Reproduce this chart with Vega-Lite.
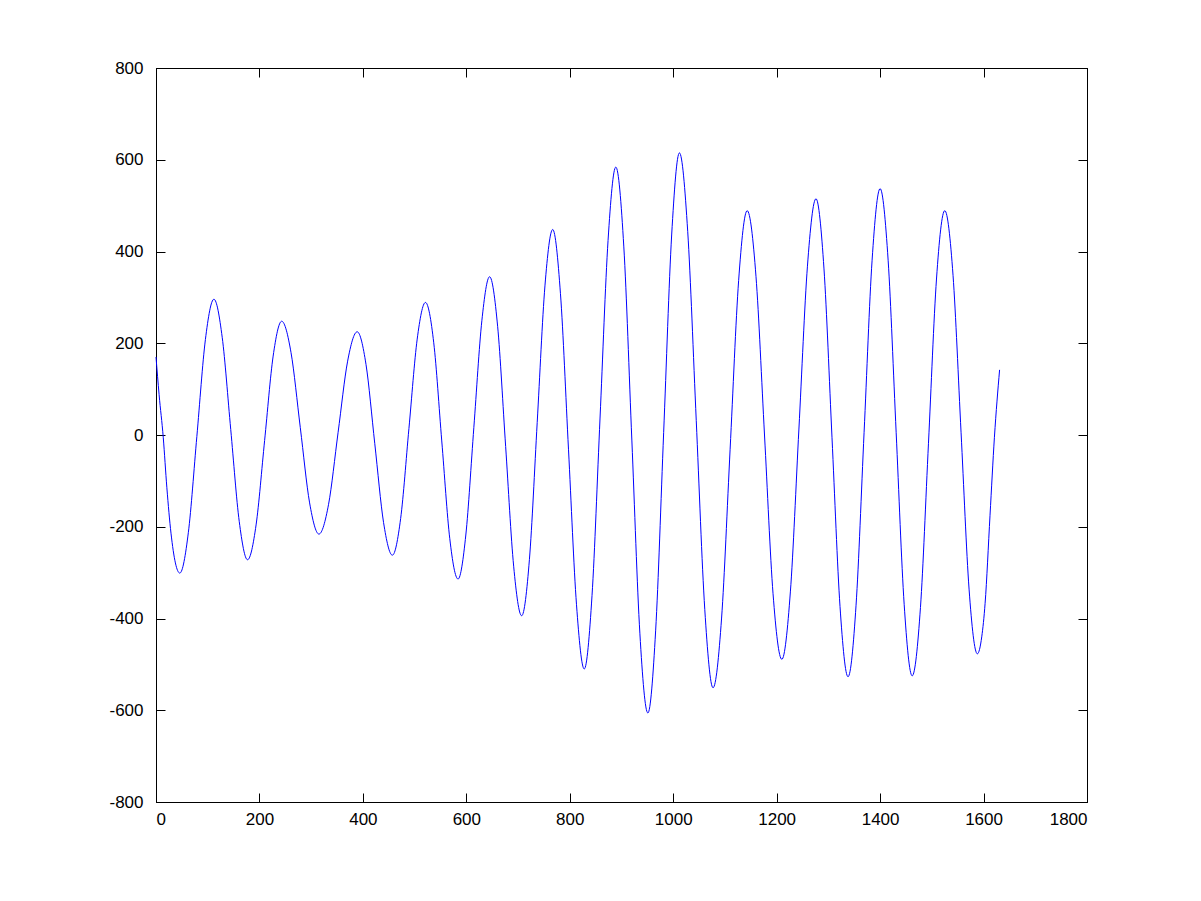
{
  "$schema": "https://vega.github.io/schema/vega-lite/v6.json",
  "autosize": "none",
  "width": 931,
  "height": 734,
  "padding": {"left": 156, "top": 68, "right": 114, "bottom": 99},
  "background": "white",
  "config": {
    "view": {"stroke": "black", "strokeWidth": 1},
    "axis": {
      "grid": false,
      "domainColor": "black",
      "tickColor": "black",
      "labelColor": "black",
      "labelFont": "Liberation Sans",
      "labelFontSize": 17,
      "tickSize": -9,
      "title": null,
      "labelExpr": "'' + datum.value"
    }
  },
  "data": {"values": [
    {"x": 0, "y": 170}, {"x": 6, "y": 88}, {"x": 14, "y": -5}, {"x": 21, "y": -115}, {"x": 29, "y": -214}, {"x": 46, "y": -301},
    {"x": 62.5, "y": -213}, {"x": 79, "y": -3}, {"x": 95.5, "y": 208}, {"x": 112, "y": 296},
    {"x": 128, "y": 213}, {"x": 144.5, "y": 12}, {"x": 161, "y": -189}, {"x": 177, "y": -272},
    {"x": 193.5, "y": -196}, {"x": 210, "y": -12}, {"x": 226.5, "y": 172}, {"x": 243, "y": 248},
    {"x": 261, "y": 180}, {"x": 279, "y": 16}, {"x": 297, "y": -148}, {"x": 315, "y": -216},
    {"x": 333.5, "y": -152}, {"x": 352, "y": 5}, {"x": 370.5, "y": 161}, {"x": 389, "y": 225},
    {"x": 406, "y": 154}, {"x": 423, "y": -19}, {"x": 440, "y": -191}, {"x": 457, "y": -262},
    {"x": 473, "y": -182}, {"x": 489, "y": 14}, {"x": 505, "y": 209}, {"x": 521, "y": 289},
    {"x": 537, "y": 201}, {"x": 552.5, "y": -13}, {"x": 568, "y": -226}, {"x": 584, "y": -314},
    {"x": 599, "y": -218}, {"x": 614.5, "y": 16}, {"x": 630, "y": 249}, {"x": 645, "y": 345},
    {"x": 660.5, "y": 237}, {"x": 676, "y": -25}, {"x": 691.5, "y": -286}, {"x": 707, "y": -394},
    {"x": 722, "y": -271}, {"x": 737, "y": 27}, {"x": 752, "y": 325}, {"x": 767, "y": 448},
    {"x": 782, "y": 308}, {"x": 797.5, "y": -31}, {"x": 813, "y": -370}, {"x": 828, "y": -510},
    {"x": 843, "y": -350}, {"x": 858.5, "y": 37}, {"x": 874, "y": 424}, {"x": 889, "y": 584},
    {"x": 904.5, "y": 410}, {"x": 920, "y": -11}, {"x": 935.5, "y": -432}, {"x": 951, "y": -606},
    {"x": 966, "y": -427}, {"x": 981.5, "y": 5}, {"x": 997, "y": 436}, {"x": 1012, "y": 615},
    {"x": 1028, "y": 444}, {"x": 1044.5, "y": 32}, {"x": 1061, "y": -380}, {"x": 1077, "y": -551},
    {"x": 1093.5, "y": -399}, {"x": 1110, "y": -31}, {"x": 1126.5, "y": 337}, {"x": 1143, "y": 489},
    {"x": 1160, "y": 346}, {"x": 1176.5, "y": 0}, {"x": 1193, "y": -346}, {"x": 1210, "y": -489},
    {"x": 1226.5, "y": -342}, {"x": 1243, "y": 13}, {"x": 1259.5, "y": 368}, {"x": 1276, "y": 515},
    {"x": 1291.5, "y": 362}, {"x": 1307, "y": -6}, {"x": 1322.5, "y": -374}, {"x": 1338, "y": -527},
    {"x": 1353.5, "y": -371}, {"x": 1369, "y": 5}, {"x": 1384.5, "y": 381}, {"x": 1400, "y": 537},
    {"x": 1415.5, "y": 381}, {"x": 1431, "y": 6}, {"x": 1446.5, "y": -369}, {"x": 1462, "y": -525},
    {"x": 1478, "y": -376}, {"x": 1493.5, "y": -18}, {"x": 1509, "y": 340}, {"x": 1525, "y": 489},
    {"x": 1541, "y": 348}, {"x": 1556.5, "y": 6}, {"x": 1572, "y": -336}, {"x": 1588, "y": -477},
    {"x": 1596.5, "y": -440}, {"x": 1603, "y": -367}, {"x": 1612.5, "y": -175}, {"x": 1621, "y": -5}, {"x": 1631, "y": 142}
  ]},
  "layer": [
    {
      "mark": {"type": "line", "color": "#0000FF", "strokeWidth": 1, "interpolate": "monotone"},
      "encoding": {
        "x": {"field": "x", "type": "quantitative", "scale": {"domain": [0, 1800], "nice": false, "zero": false},
              "axis": {"orient": "bottom", "values": [0,200,400,600,800,1000,1200,1400,1600,1800], "labelPadding": 18}},
        "y": {"field": "y", "type": "quantitative", "scale": {"domain": [-800, 800], "nice": false, "zero": false},
              "axis": {"orient": "left", "values": [-800,-600,-400,-200,0,200,400,600,800], "labelPadding": 22}}
      }
    },
    {
      "mark": {"type": "line", "strokeOpacity": 0, "interpolate": "monotone"},
      "encoding": {
        "x": {"field": "x", "type": "quantitative", "scale": {"domain": [0, 1800], "nice": false, "zero": false},
              "axis": {"orient": "top", "values": [0,200,400,600,800,1000,1200,1400,1600,1800], "labels": false}},
        "y": {"field": "y", "type": "quantitative", "scale": {"domain": [-800, 800], "nice": false, "zero": false},
              "axis": {"orient": "right", "values": [-800,-600,-400,-200,0,200,400,600,800], "labels": false}}
      }
    }
  ],
  "resolve": {"axis": {"x": "independent", "y": "independent"}}
}
